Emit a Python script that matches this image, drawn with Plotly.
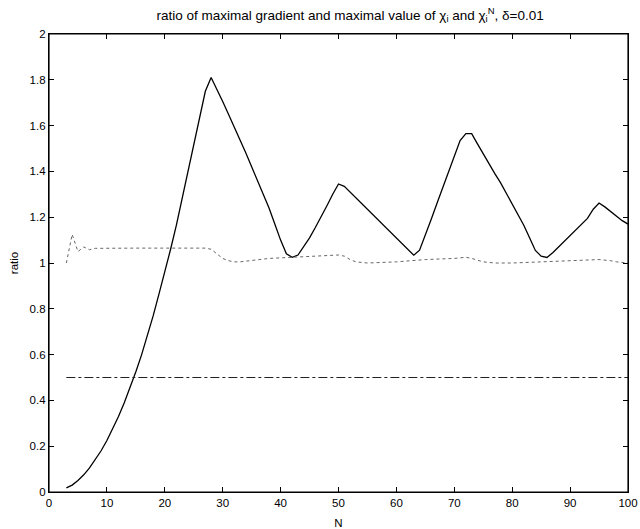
import plotly.graph_objects as go

# solid curve: ratio for chi_i
n_solid = list(range(3, 101))
ratio_solid = [
    0.018, 0.03, 0.05, 0.075, 0.105, 0.14, 0.18, 0.225, 0.275, 0.33,          # 3-12
    0.39, 0.455, 0.525, 0.6, 0.68, 0.77, 0.865, 0.96, 1.06, 1.165,            # 13-22
    1.28, 1.4, 1.52, 1.64, 1.75, 1.81, 1.76, 1.705, 1.65, 1.595,              # 23-32
    1.54, 1.48, 1.42, 1.36, 1.3, 1.24, 1.17, 1.1, 1.04, 1.025,                # 33-42
    1.035, 1.07, 1.11, 1.155, 1.2, 1.25, 1.3, 1.345, 1.335, 1.31,             # 43-52
    1.285, 1.26, 1.235, 1.21, 1.185, 1.16, 1.135, 1.11, 1.085, 1.06,          # 53-62
    1.034, 1.056, 1.12, 1.19, 1.26, 1.33, 1.4, 1.47, 1.535, 1.565,            # 63-72
    1.565, 1.52, 1.475, 1.43, 1.39, 1.35, 1.305, 1.26, 1.215, 1.165,          # 73-82
    1.11, 1.055, 1.03, 1.024, 1.045, 1.07, 1.095, 1.12, 1.145, 1.17,          # 83-92
    1.195, 1.235, 1.262, 1.245, 1.225, 1.205, 1.185, 1.17,                    # 93-100
]

# dotted curve: ratio for chi_i^N
n_dot = [3, 4, 5, 6, 7, 8, 15, 20, 27, 28, 29, 30, 31, 32, 33, 35, 38, 42, 46,
         50, 51, 52, 53, 55, 60, 65, 70, 72, 73, 75, 77, 80, 85, 90, 95, 97, 98, 100]
ratio_dot = [1.0, 1.125, 1.05, 1.07, 1.058, 1.064, 1.065, 1.065, 1.065, 1.06,
             1.04, 1.02, 1.01, 1.005, 1.005, 1.01, 1.02, 1.025, 1.03,
             1.035, 1.03, 1.015, 1.005, 1.0, 1.005, 1.015, 1.02, 1.025, 1.02,
             1.005, 1.0, 1.0, 1.005, 1.01, 1.015, 1.01, 1.005, 1.0]

# reference level
n_ref = [3, 100]
ratio_ref = [0.5, 0.5]

fig = go.Figure()

fig.add_trace(go.Scatter(x=n_solid, y=ratio_solid, mode='lines',
                         line=dict(color='black', width=1.3)))
fig.add_trace(go.Scatter(x=n_dot, y=ratio_dot, mode='lines',
                         line=dict(color='#666666', width=1, dash='dot')))
fig.add_trace(go.Scatter(x=n_ref, y=ratio_ref, mode='lines',
                         line=dict(color='#222222', width=1, dash='dashdot')))

axis_style = dict(
    showline=True, linecolor='black', linewidth=1.3, mirror='ticks',
    ticks='inside', ticklen=5, tickcolor='black', showgrid=False,
    zeroline=False, automargin=False, tickfont=dict(size=11.5, color='black'),
)

fig.update_layout(
    width=640, height=529,
    margin=dict(l=49, r=12, t=34, b=37),
    paper_bgcolor='white', plot_bgcolor='white',
    showlegend=False,
    font=dict(family='Liberation Sans, Arial, sans-serif', color='black'),
    title=dict(
        text='ratio of maximal gradient and maximal value of χ<sub>i</sub> and χ<sub>i</sub><sup>N</sup>, δ=0.01',
        xref='paper', x=0.52, xanchor='center', y=0.972, yanchor='middle',
        font=dict(size=13.5),
    ),
    xaxis=dict(range=[0, 100], dtick=10, title=dict(text='N', font=dict(size=11.5)), **axis_style),
    yaxis=dict(range=[0, 2], dtick=0.2, title=dict(text='ratio', standoff=8, font=dict(size=11.5)), **axis_style),
)

# box around the plotting area
fig.add_shape(type='rect', xref='paper', yref='paper', x0=0, y0=0, x1=1, y1=1,
              line=dict(color='black', width=1.2))

# drop the default body margin so the figure fills the window exactly
fig.write_html("out.html", config={'displayModeBar': False},
               post_script="document.body.style.margin='0';")
